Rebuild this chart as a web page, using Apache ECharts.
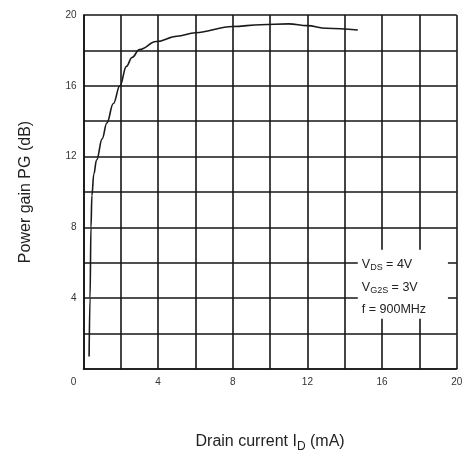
<!DOCTYPE html>
<html>
<head>
<meta charset="utf-8">
<script src="https://cdn.jsdelivr.net/npm/echarts@6/dist/echarts.min.js"></script>
<style>
html,body{margin:0;padding:0;background:#fff;}
#c{width:469px;height:458px;}
</style>
</head>
<body>
<div id="c"></div>
<script>
// Drain current I_D (mA)
const drainCurrent = [0.3, 0.35, 0.4, 0.45, 0.55, 0.7, 1.0, 1.25, 1.6, 1.95, 2.3, 2.6, 3.0, 3.9, 5.0, 6.0, 8.0, 9.5, 11.0, 12.0, 13.0, 14.7];
// Power gain PG (dB)
const powerGain = [0.7, 4.0, 8.0, 9.8, 11.0, 11.8, 13.0, 13.9, 15.0, 16.0, 17.1, 17.6, 18.05, 18.5, 18.8, 19.0, 19.35, 19.45, 19.5, 19.4, 19.25, 19.15];
const xTicks = [0, 4, 8, 12, 16, 20];
const yTicks = [4, 8, 12, 16, 20];
const noteBox = [[14.7, 6.74], [19.53, 2.84]];

const chart = echarts.init(document.getElementById('c'), null, {renderer: 'canvas'});
const gridLine = {show: true, lineStyle: {color: '#161616', width: 1.6}};
chart.setOption({
  animation: false,
  backgroundColor: '#fff',
  grid: {left: 83.5, right: 12.3, top: 15, bottom: 84},
  xAxis: {
    type: 'value', min: 0, max: 20, interval: 2,
    axisLine: {show: true, lineStyle: {color: '#161616', width: 1.6}},
    axisTick: {show: false},
    splitLine: gridLine,
    axisLabel: {
      margin: 8, fontSize: 10, color: '#333', fontFamily: 'Liberation Sans',
      formatter: v => xTicks.includes(v) ? (v === 0 ? '{z|0}' : String(v)) : '',
      rich: {z: {fontSize: 10, color: '#333', padding: [0, 20, 0, 0]}}
    },
    name: '{a|Drain current I}{b|D}{a| (mA)}',
    nameLocation: 'middle', nameGap: 62,
    nameTextStyle: {
      rich: {
        a: {fontSize: 16, color: '#222', fontFamily: 'Liberation Sans', lineHeight: 22},
        b: {fontSize: 12, color: '#222', fontFamily: 'Liberation Sans', verticalAlign: 'bottom', lineHeight: 14, padding: [6, 0, 0, 0]}
      }
    }
  },
  yAxis: {
    type: 'value', min: 0, max: 20, interval: 2,
    axisLine: {show: true, lineStyle: {color: '#161616', width: 1.6}},
    axisTick: {show: false},
    splitLine: gridLine,
    axisLabel: {
      margin: 7, fontSize: 10, color: '#333', fontFamily: 'Liberation Sans',
      formatter: v => yTicks.includes(v) ? String(v) : ''
    },
    name: 'Power gain PG (dB)',
    nameLocation: 'middle', nameGap: 50,
    nameTextStyle: {fontSize: 16, color: '#222', fontFamily: 'Liberation Sans'}
  },
  series: [{
    type: 'line',
    data: drainCurrent.map((x, i) => [x, powerGain[i]]),
    smooth: 0.4,
    smoothMonotone: 'x',
    showSymbol: false,
    lineStyle: {color: '#1a1a1a', width: 1.6},
    markArea: {
      silent: true,
      itemStyle: {color: '#ffffff', opacity: 1},
      label: {
        show: true, position: 'insideTopLeft', distance: 4,
        formatter: '{v|V}{s|DS}{v| = 4V}\n{v|V}{s|G2S}{v| = 3V}\n{v|f = 900MHz}',
        rich: {
          v: {fontSize: 12.5, color: '#222', fontFamily: 'Liberation Sans', lineHeight: 22.5},
          s: {fontSize: 9, color: '#222', fontFamily: 'Liberation Sans', lineHeight: 22.5, padding: [6, 0, 0, 0]}
        }
      },
      data: [[{coord: noteBox[0]}, {coord: noteBox[1]}]]
    }
  }]
});
</script>
</body>
</html>
